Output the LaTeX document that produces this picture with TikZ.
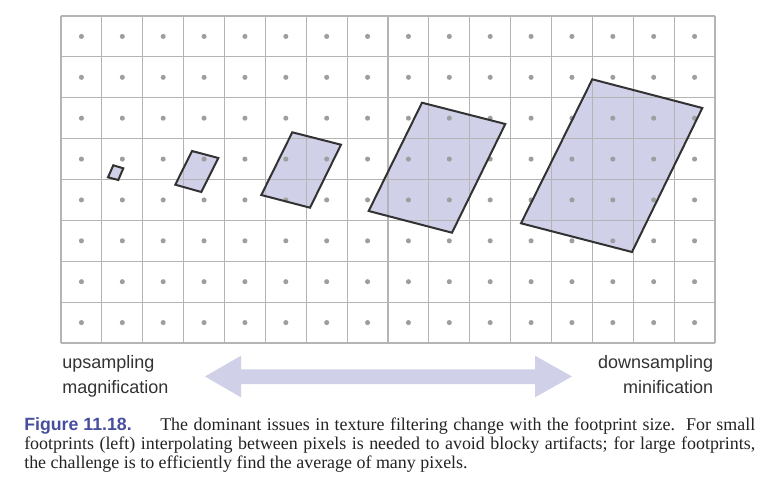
\documentclass[tikz,border=0pt]{standalone}
\usepackage{fontspec}
\setmainfont{Liberation Serif}
\newfontfamily\labelfont{Liberation Sans}
\definecolor{gridc}{RGB}{180,180,180}
\definecolor{dotc}{RGB}{158,158,158}
\definecolor{fillc}{RGB}{208,208,232}
\definecolor{edgec}{RGB}{50,50,50}
\definecolor{capblue}{RGB}{72,78,158}
\definecolor{txt}{RGB}{51,51,51}
\definecolor{captxt}{RGB}{35,35,35}
\begin{document}
\begin{tikzpicture}[x=0.75pt,y=-0.75pt,
  gridline/.style={draw=gridc,line width=0.9pt},
  pixdot/.style={fill=dotc},
  footfill/.style={fill=fillc},
  footedge/.style={draw=edgec,line width=1.5pt,line join=miter},
  bigarrow/.style={fill=fillc},
  lbl/.style={font=\labelfont\fontsize{13.5}{16}\selectfont,text=txt,inner sep=0pt},
  captext/.style={font=\fontsize{13.45}{14.25}\selectfont,text=captxt,inner sep=0pt},
  capfig/.style={font=\labelfont\bfseries\fontsize{13.3}{14.25}\selectfont,text=capblue,inner sep=0pt}]
\useasboundingbox[fill=white] (0,0) rectangle (767,482);
% footprint fills
\fill[footfill] (113.3,165.3) -- (123.3,168.3) -- (118.3,180) -- (108,177.3) -- cycle;
\fill[footfill] (192,151) -- (218.3,158) -- (201.3,192) -- (175.3,184.7) -- cycle;
\fill[footfill] (292.3,132.3) -- (341,144.7) -- (310,207.7) -- (261.3,195) -- cycle;
\fill[footfill] (422,102.7) -- (505.3,124) -- (452,232.7) -- (368.7,211) -- cycle;
\fill[footfill] (592.3,79.3) -- (702.3,108) -- (632,252) -- (521,223.3) -- cycle;
% grid
\foreach \i in {0,...,16} \draw[gridline] ({61+40.875*\i},16) -- ({61+40.875*\i},343);
\foreach \j in {0,...,8} \draw[gridline] (61,{16+40.875*\j}) -- (715,{16+40.875*\j});
\foreach \i in {0,...,15} \foreach \j in {0,...,7}
  \fill[pixdot] ({61+40.875*(\i+0.5)},{16+40.875*(\j+0.5)}) circle[radius=1.9pt];
% footprint outlines
\draw[footedge] (113.3,165.3) -- (123.3,168.3) -- (118.3,180) -- (108,177.3) -- cycle;
\draw[footedge] (192,151) -- (218.3,158) -- (201.3,192) -- (175.3,184.7) -- cycle;
\draw[footedge] (292.3,132.3) -- (341,144.7) -- (310,207.7) -- (261.3,195) -- cycle;
\draw[footedge] (422,102.7) -- (505.3,124) -- (452,232.7) -- (368.7,211) -- cycle;
\draw[footedge] (592.3,79.3) -- (702.3,108) -- (632,252) -- (521,223.3) -- cycle;
% double arrow
\fill[bigarrow] (205,376.5) -- (241,355.7) -- (241,369.3) -- (535,369.3) -- (535,355.7) -- (572,376.5)
  -- (535,397.3) -- (535,384) -- (241,384) -- (241,397.3) -- cycle;
% labels
\node[lbl,anchor=base west] (up) at (62,368) {upsampling};
\node[lbl,anchor=base west] (mag) at (62,393) {magnification};
\node[lbl,anchor=base east] (down) at (713.5,368) {downsampling};
\node[lbl,anchor=base east] (mini) at (713.5,393) {minification};
% caption
\node[capfig,anchor=base west] (fig) at (24,430) {Figure 11.18.};
\node[captext,anchor=base west] (c1) at (160,430) {\makebox[446.25pt][s]{The dominant issues in texture filtering change with the footprint size.\ \ For small}};
\node[captext,anchor=base west] (c2) at (24,449) {\makebox[548.25pt][s]{footprints (left) interpolating between pixels is needed to avoid blocky artifacts; for large footprints,}};
\node[captext,anchor=base west] (c3) at (24,468) {the challenge is to efficiently find the average of many pixels.};
\end{tikzpicture}
\end{document}
